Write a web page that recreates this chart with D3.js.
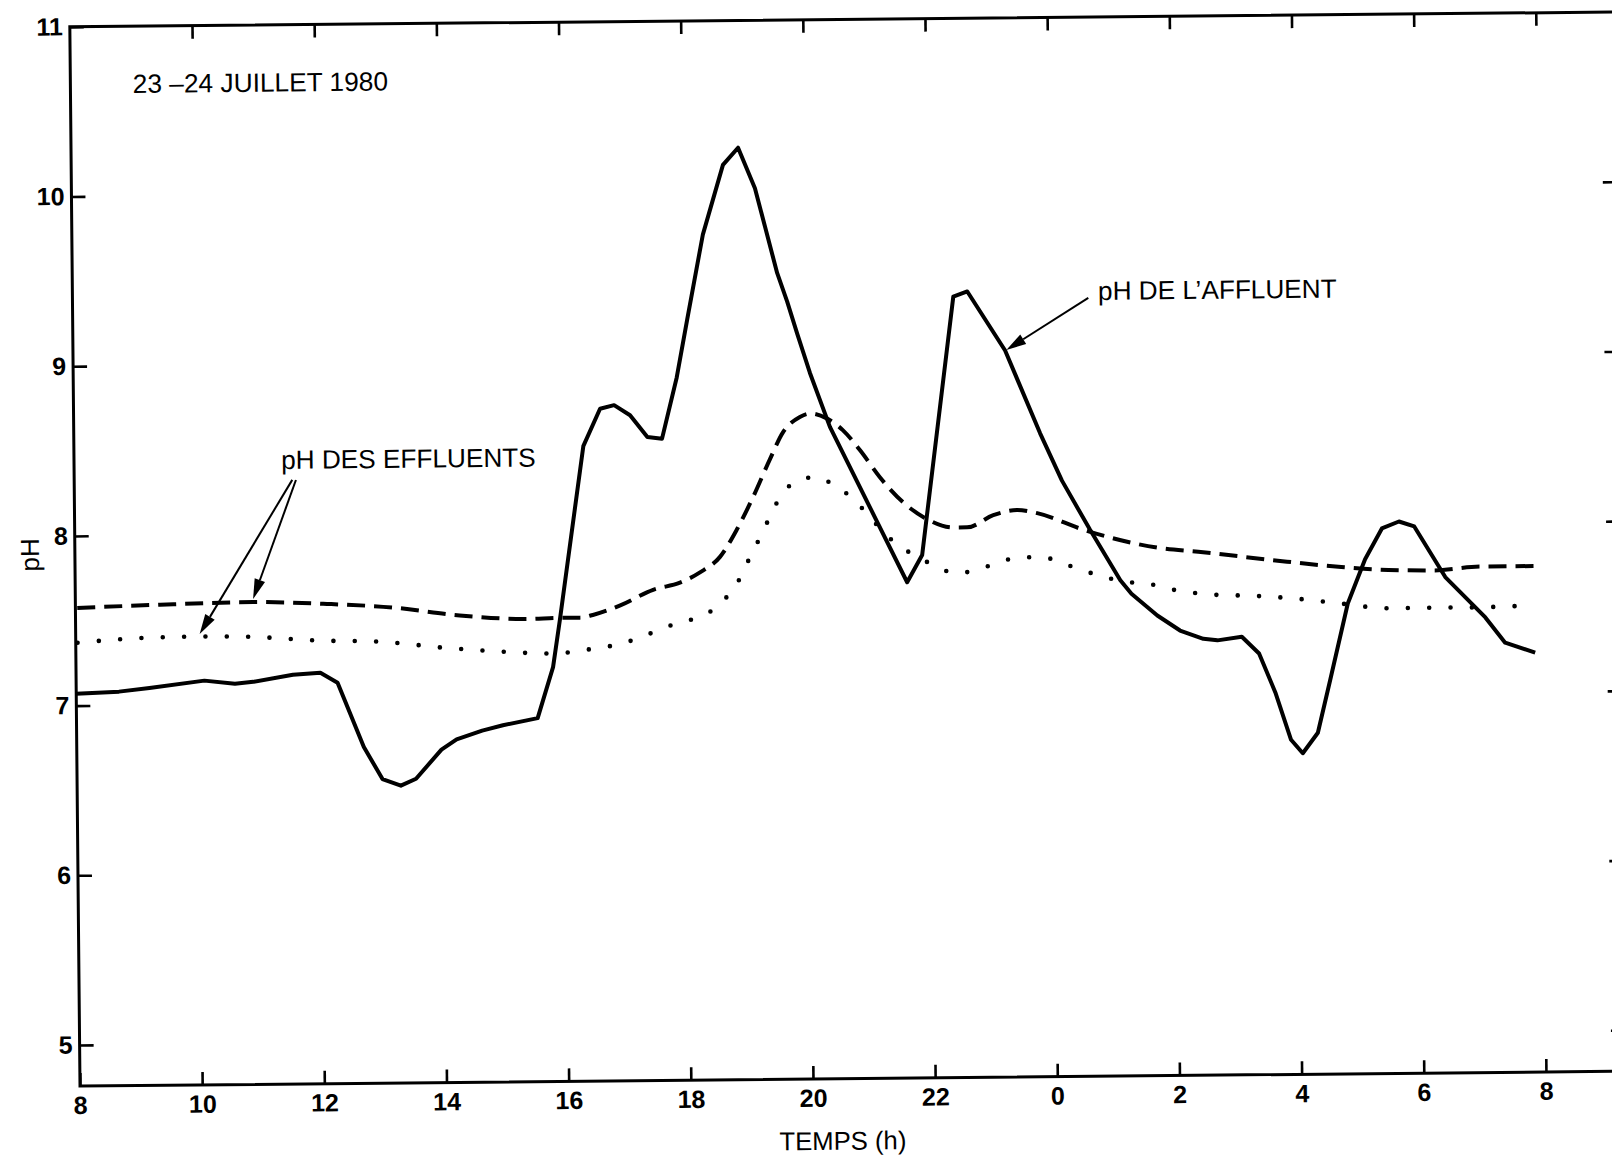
<!DOCTYPE html>
<html><head><meta charset="utf-8">
<script src="https://cdn.jsdelivr.net/npm/d3@7"></script>
<style>
body{margin:0;background:#fff}
svg{display:block}
text{font-family:"Liberation Sans",Arial,Helvetica,sans-serif;fill:#000}
</style>
</head><body>
<svg id="chart" width="1612" height="1158"></svg>
<script>
// ---- data (hours since 0h of 23 July; 24+ = next day) ----
const affluentHours = [8.0, 8.7, 9.2, 10.1, 10.6, 10.9, 11.55, 12.0, 12.28, 12.7, 13.0, 13.3, 13.55, 13.97, 14.22, 14.64, 14.98, 15.55, 15.81, 15.93, 16.34, 16.62, 16.85, 17.11, 17.39, 17.63, 17.88, 18.06, 18.33, 18.67, 18.92, 19.19, 19.54, 19.70, 19.86, 20.06, 20.38, 21.62, 21.87, 22.42, 22.65, 23.26, 23.82, 24.17, 24.62, 25.11, 25.29, 25.71, 26.08, 26.46, 26.69, 27.09, 27.37, 27.63, 27.88, 28.07, 28.32, 28.53, 28.83, 29.12, 29.40, 29.68, 29.93, 30.43, 31.08, 31.40, 31.89];
const affluentPH = [7.07, 7.08, 7.10, 7.14, 7.12, 7.13, 7.17, 7.18, 7.12, 6.74, 6.55, 6.51, 6.55, 6.72, 6.78, 6.83, 6.86, 6.90, 7.20, 7.48, 8.50, 8.72, 8.74, 8.68, 8.55, 8.54, 8.90, 9.24, 9.74, 10.15, 10.25, 10.01, 9.51, 9.34, 9.15, 8.92, 8.60, 7.68, 7.84, 9.36, 9.39, 9.04, 8.55, 8.27, 7.98, 7.68, 7.60, 7.47, 7.38, 7.33, 7.32, 7.34, 7.24, 7.01, 6.73, 6.65, 6.77, 7.08, 7.53, 7.79, 7.97, 8.01, 7.98, 7.68, 7.44, 7.29, 7.23];

const effluentAHours = [8.03, 9.39, 10.91, 12.12, 13.20, 14.29, 15.39, 15.93, 16.26, 16.47, 16.92, 17.46, 17.90, 18.23, 18.56, 18.84, 19.11, 19.39, 19.61, 19.89, 20.06, 20.33, 20.59, 20.87, 21.19, 21.57, 21.96, 22.38, 22.61, 23.04, 23.43, 23.76, 24.51, 25.72, 26.47, 27.60, 28.73, 29.50, 30.25, 31.00, 31.90];
const effluentAPH = [7.575, 7.59, 7.60, 7.585, 7.56, 7.51, 7.485, 7.49, 7.49, 7.505, 7.56, 7.65, 7.69, 7.75, 7.84, 8.00, 8.19, 8.41, 8.57, 8.66, 8.68, 8.65, 8.58, 8.46, 8.30, 8.15, 8.05, 8.00, 8.00, 8.07, 8.10, 8.08, 7.98, 7.87, 7.84, 7.79, 7.745, 7.725, 7.72, 7.74, 7.74];

const effluentBHours = [8.03, 9.10, 10.13, 10.90, 11.95, 12.96, 14.04, 15.14, 15.81, 16.17, 16.53, 16.89, 17.24, 17.60, 17.92, 18.26, 18.54, 18.77, 18.94, 19.09, 19.25, 19.40, 19.58, 19.81, 20.15, 20.46, 20.73, 20.99, 21.23, 21.51, 21.80, 22.10, 22.44, 22.77, 23.11, 23.47, 23.83, 24.19, 24.50, 24.85, 25.19, 25.53, 25.92, 26.61, 27.31, 28.02, 28.72, 29.47, 30.18, 30.86, 31.57];
const effluentBPH = [7.37, 7.395, 7.40, 7.395, 7.37, 7.36, 7.32, 7.29, 7.28, 7.29, 7.31, 7.33, 7.37, 7.42, 7.46, 7.49, 7.56, 7.65, 7.75, 7.87, 7.97, 8.09, 8.20, 8.28, 8.305, 8.25, 8.18, 8.08, 7.98, 7.89, 7.83, 7.77, 7.73, 7.75, 7.79, 7.82, 7.82, 7.78, 7.74, 7.70, 7.67, 7.66, 7.625, 7.59, 7.58, 7.56, 7.53, 7.50, 7.50, 7.50, 7.505];

const xTickValues = [8, 10, 12, 14, 16, 18, 20, 22, 24, 26, 28, 30, 32];
const xTickLabels = ["8", "10", "12", "14", "16", "18", "20", "22", "0", "2", "4", "6", "8"];
const yTickValues = [5, 6, 7, 8, 9, 10, 11];
const yTickLabels = ["5", "6", "7", "8", "9", "10", "11"];

const titleText = "23 \u201324 JUILLET 1980";
const xTitle = "TEMPS (h)";
const yTitle = "pH";
const effluentLabel = "pH DES EFFLUENTS";
const affluentLabel = "pH DE L\u2019AFFLUENT";

// ---- layout ----
const svg = d3.select("#chart");
const x = d3.scaleLinear().domain([8, 32]).range([80, 1546]);
const y = d3.scaleLinear().domain([5, 11]).range([1045, 26.8]);
const plotLeft = x(8), plotRight = x(33.3), plotTop = y(11), plotBottom = y(4.758);

// the scanned page is slightly rotated
const g = svg.append("g").attr("transform", `rotate(-0.55, ${plotLeft}, ${plotBottom})`);

const fmtX = (d) => xTickLabels[xTickValues.indexOf(d)];
const fmtY = (d) => yTickLabels[yTickValues.indexOf(d)];

function styleAxis(sel) {
  sel.select(".domain").remove();
  sel.selectAll(".tick line").attr("stroke", "#000").attr("stroke-width", 2.6);
  sel.selectAll(".tick text").attr("font-size", 25).attr("font-weight", "bold").attr("fill", "#000")
     .style("font-family", '"Liberation Sans",Arial,sans-serif');
}

g.append("g").attr("transform", `translate(0,${plotBottom})`)
  .call(d3.axisBottom(x).tickValues(xTickValues).tickFormat(fmtX).tickSizeInner(-13).tickSizeOuter(0).tickPadding(10))
  .call(styleAxis);
g.append("g").attr("transform", `translate(0,${plotTop})`)
  .call(d3.axisTop(x).tickValues(xTickValues.slice(1)).tickFormat("").tickSizeInner(-13).tickSizeOuter(0))
  .call(styleAxis);
g.append("g").attr("transform", `translate(${plotLeft},0)`)
  .call(d3.axisLeft(y).tickValues(yTickValues).tickFormat(fmtY).tickSizeInner(-14).tickSizeOuter(0).tickPadding(7))
  .call(styleAxis);
g.append("g").attr("transform", `translate(${plotRight},0)`)
  .call(d3.axisRight(y).tickValues(yTickValues.slice(0, -1)).tickFormat("").tickSizeInner(-14).tickSizeOuter(0))
  .call(styleAxis);

// frame
g.append("rect").attr("x", plotLeft).attr("y", plotTop)
  .attr("width", plotRight - plotLeft).attr("height", plotBottom - plotTop)
  .attr("fill", "none").attr("stroke", "#000").attr("stroke-width", 3);

// ---- series ----
const affluent = d3.zip(affluentHours, affluentPH);
const effA = d3.zip(effluentAHours, effluentAPH);
const effB = d3.zip(effluentBHours, effluentBPH);

const lineLin = d3.line().x(d => x(d[0])).y(d => y(d[1]));
const lineSmooth = d3.line().x(d => x(d[0])).y(d => y(d[1])).curve(d3.curveMonotoneX);

const dotted = g.append("path").datum(effB).attr("d", lineSmooth)
  .attr("fill", "none").attr("stroke", "#000").attr("stroke-width", 4.6)
  .attr("stroke-linecap", "round");
{
  const L = dotted.node().getTotalLength();
  const n = Math.round(L / 21.5);
  const gap = (L - 1) / n;
  dotted.attr("stroke-dasharray", `0 ${gap}`);
}
g.append("path").datum(effA).attr("d", lineSmooth)
  .attr("fill", "none").attr("stroke", "#000").attr("stroke-width", 4)
  .attr("stroke-dasharray", "18 9");
g.append("path").datum(affluent).attr("d", lineLin)
  .attr("fill", "none").attr("stroke", "#000").attr("stroke-width", 4)
  .attr("stroke-linejoin", "round");

// ---- annotations ----
function arrow(h1, p1, h2, p2) {
  const x1 = x(h1), y1 = y(p1), x2 = x(h2), y2 = y(p2);
  const dx = x2 - x1, dy = y2 - y1, L = Math.hypot(dx, dy);
  const ux = dx / L, uy = dy / L, hl = 20, hw = 5.5;
  const bx = x2 - ux * hl, by = y2 - uy * hl;
  g.append("line").attr("x1", x1).attr("y1", y1).attr("x2", bx).attr("y2", by)
    .attr("stroke", "#000").attr("stroke-width", 2);
  g.append("path").attr("d", `M${x2},${y2}L${bx - uy * hw},${by + ux * hw}L${bx + uy * hw},${by - ux * hw}Z`)
    .attr("fill", "#000");
}
arrow(11.57, 8.318, 10.03, 7.415);
arrow(11.63, 8.317, 10.91, 7.618);
arrow(24.63, 9.345, 23.28, 9.043);

g.append("text").attr("x", x(9.02)).attr("y", y(10.607)).attr("font-size", 26.3).text(titleText);
g.append("text").attr("x", x(11.39)).attr("y", y(8.383)).attr("font-size", 26.2).text(effluentLabel);
g.append("text").attr("x", x(24.79)).attr("y", y(9.333)).attr("font-size", 26.2).text(affluentLabel);

g.append("text").attr("x", x(20.48)).attr("y", plotBottom + 71).attr("text-anchor", "middle")
  .attr("font-size", 25.7).text(xTitle);
g.append("text").attr("transform", `translate(${plotLeft - 36},${y(7.89)}) rotate(-90)`)
  .attr("text-anchor", "middle").attr("font-size", 26).text(yTitle);
</script>
</body></html>
